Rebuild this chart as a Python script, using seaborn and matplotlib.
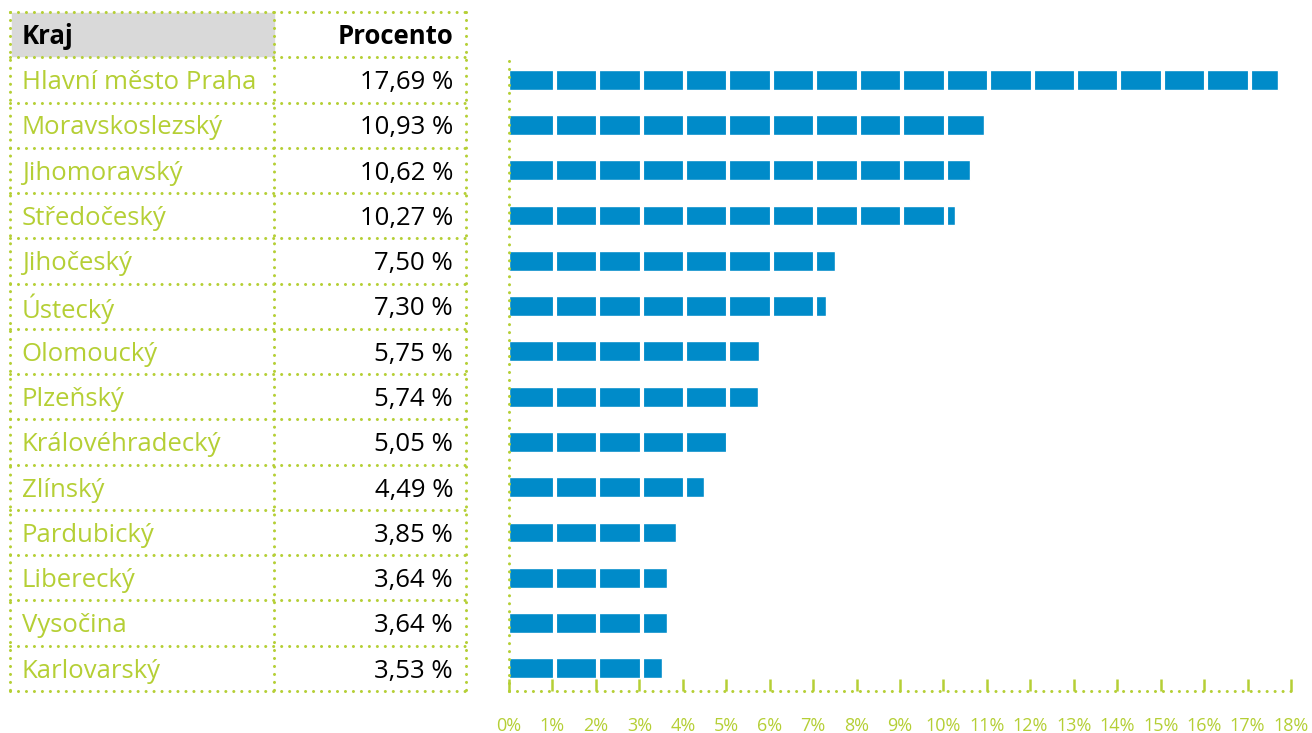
import matplotlib
matplotlib.use('Agg')
import matplotlib.pyplot as plt
import seaborn as sns
import pandas as pd
import numpy as np

# data
regions = ['Hlavní město Praha', 'Moravskoslezský', 'Jihomoravský', 'Středočeský',
           'Jihočeský', 'Ústecký', 'Olomoucký', 'Plzeňský', 'Královéhradecký',
           'Zlínský', 'Pardubický', 'Liberecký', 'Vysočina', 'Karlovarský']
percent = [17.69, 10.93, 10.62, 10.27, 7.50, 7.30, 5.75, 5.74, 5.05,
           4.49, 3.85, 3.64, 3.64, 3.53]
header = ['Kraj', 'Procento']
xticks = list(range(0, 19))

green = '#b5cf35'
blue = '#008bc9'
dots = (0, (0.01, 2.6))

sns.set_style('white')
plt.rcParams['font.family'] = ['Open Sans', 'DejaVu Sans']

df = pd.DataFrame({'kraj': regions, 'procento': percent})

fig = plt.figure(figsize=(13.12, 7.33), dpi=100)
W, H = 1312, 733

# %%
# bar chart on the right
ax = fig.add_axes([509 / W, 1 - 691 / H, (1291 - 509) / W, (691 - 57) / H])
sns.barplot(data=df, x='procento', y='kraj', orient='h', color=blue,
            saturation=1, width=0.44, ax=ax)
# white gaps every 1 %
for k in xticks[1:]:
    ax.axvline(k + 0.05, color='white', lw=3, zorder=2.2)
ax.set_axisbelow(False)
ax.set_xlim(0, 18)
ax.set_ylim(len(regions) - 0.5, -0.5)
ax.set_xticks(xticks)
ax.set_xticklabels([f'{t}%' for t in xticks])
ax.set_yticks([])
ax.set_xlabel('')
ax.set_ylabel('')
ax.tick_params(axis='x', direction='in', length=9, width=1.8, color=green,
               labelcolor=green, labelsize=13, pad=19, bottom=True)
for s in ['top', 'right']:
    ax.spines[s].set_visible(False)
for s in ['left', 'bottom']:
    ax.spines[s].set_color(green)
    ax.spines[s].set_linewidth(2.2)
    ax.spines[s].set_linestyle(dots)
    ax.spines[s].set_capstyle('round')
ax.set_facecolor('none')

# %%
# table on the left
tb = fig.add_axes([10 / W, 1 - 691 / H, (466 - 10) / W, (691 - 12) / H])
n = len(regions) + 1
tb.set_xlim(0, 1)
tb.set_ylim(n, 0)
tb.axis('off')
xdiv = (274 - 10) / 456
tb.fill_between([0.004, xdiv], 0.02, 0.98, color='#d9d9d9', zorder=0)
for i in range(n + 1):
    tb.plot([0, 1], [i, i], color=green, lw=2.2, ls=dots, dash_capstyle='round',
            clip_on=False)
for xv in [0, xdiv, 1]:
    tb.plot([xv, xv], [0, n], color=green, lw=2.2, ls=dots, dash_capstyle='round',
            clip_on=False)

fs = 18.5
tb.text(0.026, 0.55, header[0], fontsize=fs, fontweight='bold', color='black',
        va='center', ha='left')
tb.text(0.9715, 0.55, header[1], fontsize=fs, fontweight='bold', color='black',
        va='center', ha='right')
for i, (r, p) in enumerate(zip(regions, percent)):
    tb.text(0.026, i + 1.56, r, fontsize=fs, color=green, va='center', ha='left')
    tb.text(0.9715, i + 1.56, f'{p:.2f} %'.replace('.', ','), fontsize=fs,
            color='black', va='center', ha='right')

plt.savefig('out.png', dpi=100)
